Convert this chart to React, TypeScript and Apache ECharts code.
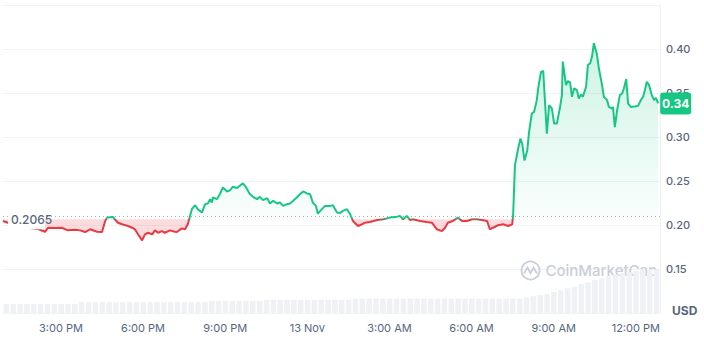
import React, { useEffect, useRef } from "react";
import * as echarts from "echarts";

// Window: 24h starting 12 Nov, 12:53 PM (minutes counted from 12 Nov 00:00)
const START_MIN = 773;
const WINDOW_MIN = 1440;
const BASELINE = 0.2065;
const LAST_LABEL = "0.34";

// minutes after window start
const minutes = [
  0, 37, 77, 92, 99, 114, 129, 142, 158, 169,
  180, 191, 206, 217, 224, 228, 241, 245, 252, 261,
  274, 283, 289, 296, 305, 311, 318, 327, 333, 340,
  348, 355, 366, 377, 381, 392, 399, 405, 414, 421,
  427, 436, 443, 449, 454, 458, 460, 469, 476, 482,
  491, 498, 504, 513, 519, 526, 533, 541, 548, 557,
  563, 570, 579, 585, 592, 601, 607, 614, 622, 629,
  636, 644, 651, 658, 666, 673, 679, 686, 690, 699,
  706, 717, 723, 732, 739, 745, 754, 761, 767, 778,
  787, 793, 804, 820, 833, 848, 864, 870, 877, 885,
  892, 899, 914, 929, 940, 951, 962, 969, 975, 986,
  997, 1006, 1017, 1028, 1039, 1050, 1061, 1067, 1074, 1085,
  1096, 1107, 1116, 1118, 1122, 1129, 1134, 1138, 1143, 1149,
  1153, 1159, 1164, 1170, 1173, 1179, 1184, 1188, 1192, 1197,
  1203, 1208, 1214, 1221, 1225, 1227, 1234, 1238, 1243, 1247,
  1252, 1258, 1262, 1267, 1271, 1278, 1282, 1287, 1291, 1295,
  1302, 1306, 1313, 1317, 1324, 1328, 1335, 1337, 1341, 1346,
  1352, 1357, 1361, 1366, 1370, 1376, 1387, 1392, 1398, 1403,
  1407, 1411, 1416, 1422, 1427, 1431, 1436,
];

const prices = [
  0.2046, 0.1977, 0.1954, 0.1923, 0.1969, 0.1966, 0.1969, 0.1939, 0.1946, 0.1939,
  0.1920, 0.1951, 0.1923, 0.1920, 0.2046, 0.2084, 0.2092, 0.2065, 0.2026, 0.2008,
  0.1989, 0.1969, 0.1951, 0.1894, 0.1825, 0.1894, 0.1912, 0.1894, 0.1939, 0.1912,
  0.1931, 0.1912, 0.1939, 0.1923, 0.1920, 0.1962, 0.1951, 0.2008, 0.2180, 0.2225,
  0.2180, 0.2141, 0.2237, 0.2244, 0.2294, 0.2255, 0.2312, 0.2294, 0.2358, 0.2427,
  0.2381, 0.2397, 0.2435, 0.2420, 0.2446, 0.2473, 0.2427, 0.2351, 0.2320, 0.2294,
  0.2320, 0.2283, 0.2305, 0.2244, 0.2275, 0.2244, 0.2255, 0.2217, 0.2237, 0.2244,
  0.2275, 0.2312, 0.2351, 0.2381, 0.2358, 0.2351, 0.2255, 0.2217, 0.2129, 0.2180,
  0.2217, 0.2217, 0.2225, 0.2141, 0.2137, 0.2160, 0.2180, 0.2122, 0.2046, 0.1989,
  0.2008, 0.2026, 0.2034, 0.2057, 0.2065, 0.2084, 0.2095, 0.2103, 0.2065, 0.2103,
  0.2057, 0.2065, 0.2046, 0.2034, 0.2026, 0.1951, 0.1931, 0.1969, 0.2026, 0.2046,
  0.2084, 0.2046, 0.2046, 0.2065, 0.2065, 0.2057, 0.2046, 0.1951, 0.1969, 0.1997,
  0.2008, 0.1989, 0.2008, 0.2103, 0.2675, 0.2866, 0.2981, 0.2923, 0.2732, 0.2847,
  0.3056, 0.3267, 0.3285, 0.3419, 0.3553, 0.3736, 0.3751, 0.3399, 0.3037, 0.3362,
  0.3324, 0.3152, 0.3152, 0.3342, 0.3476, 0.3857, 0.3590, 0.3636, 0.3621, 0.3457,
  0.3553, 0.3533, 0.3438, 0.3484, 0.3457, 0.3571, 0.3819, 0.3839, 0.3914, 0.4068,
  0.3934, 0.3781, 0.3590, 0.3457, 0.3419, 0.3342, 0.3324, 0.3342, 0.3113, 0.3304,
  0.3476, 0.3495, 0.3553, 0.3659, 0.3381, 0.3342, 0.3350, 0.3354, 0.3419, 0.3457,
  0.3533, 0.3628, 0.3590, 0.3476, 0.3419, 0.3445, 0.3381,
];

// 15-minute volume bars (relative units)
const volume = [
  15, 15, 15, 15, 15, 15, 15, 15, 15, 15, 15,
  18, 18, 18, 18, 18, 18, 18, 18, 18, 18, 18, 18, 18, 18, 18, 18, 18, 18, 18,
  20, 20, 20, 20, 20, 20, 20, 20,
  22, 22, 22, 22, 22, 22, 22, 22, 22, 22, 22, 22, 22,
  24, 24, 24, 24, 24, 24, 24, 24, 24, 24, 24, 24, 24, 24, 24, 24, 24, 24, 24, 24, 24, 24, 24, 24, 24,
  26, 28, 30, 32, 35, 38, 41, 44, 48, 51, 55, 58, 61, 64, 66, 68, 70, 72, 73, 73,
];

// x tick positions (minutes from 12 Nov 00:00) and their labels
const tickMinutes = [900, 1080, 1260, 1440, 1620, 1800, 1980, 2160];
const tickLabels = ["3:00 PM", "6:00 PM", "9:00 PM", "13 Nov", "3:00 AM", "6:00 AM", "9:00 AM", "12:00 PM"];

const Y_MIN = 0.1;
const Y_MAX = 0.45;
const Y_STEP = 0.05;

const GREEN = "#16c784";
const RED = "#ea3943";
const GREY = "#58667e";
const FONT = "Inter, 'Noto Sans', sans-serif";

export default function App() {
  const ref = useRef<HTMLDivElement>(null);

  useEffect(() => {
    if (!ref.current) return;
    const chart = echarts.init(ref.current, null, { renderer: "svg" });

    const priceData = minutes.map((m, i) => [START_MIN + m, prices[i]]);
    const pMax = Math.max(...prices);
    const pMin = Math.min(...prices);
    const off = (pMax - BASELINE) / (pMax - pMin);

    const option: any = {
      animation: false,
      textStyle: { fontFamily: FONT },
      grid: [
        { left: 3, right: 44, top: 5, bottom: 40 },
        { left: 3, right: 44, bottom: 40, height: 60 },
      ],
      xAxis: [
        {
          type: "value",
          gridIndex: 0,
          min: START_MIN,
          max: START_MIN + WINDOW_MIN,
          axisLine: { show: false },
          axisTick: { show: false },
          splitLine: { show: false },
          axisLabel: { show: false },
        },
        {
          type: "category",
          gridIndex: 1,
          data: volume.map((_, i) => String(i)),
          show: false,
        },
      ],
      yAxis: [
        {
          type: "value",
          gridIndex: 0,
          position: "right",
          min: Y_MIN,
          max: Y_MAX,
          interval: Y_STEP,
          axisLine: { show: true, lineStyle: { color: "#eef0f3" } },
          axisTick: { show: false },
          splitLine: { show: true, lineStyle: { color: "#f1f3f6", width: 1 } },
          axisLabel: {
            showMinLabel: false,
            showMaxLabel: false,
            formatter: (v: number) => v.toFixed(2),
            color: GREY,
            fontSize: 11,
            fontWeight: 500,
            fontFamily: FONT,
            margin: 6,
          },
        },
        {
          type: "value",
          gridIndex: 1,
          min: 0,
          max: 100,
          show: false,
          splitLine: { show: false },
        },
      ],
      visualMap: {
        show: false,
        type: "piecewise",
        seriesIndex: 0,
        dimension: 1,
        pieces: [
          { gte: 0, lt: BASELINE, color: RED },
          { gte: BASELINE, lte: 1, color: GREEN },
        ],
      },
      series: [
        {
          type: "line",
          xAxisIndex: 0,
          yAxisIndex: 0,
          data: priceData,
          showSymbol: false,
          symbol: "none",
          lineStyle: { width: 2 },
          z: 5,
          areaStyle: {
            origin: BASELINE,
            color: new echarts.graphic.LinearGradient(0, 0, 0, 1, [
              { offset: 0, color: "rgba(22,199,132,0.30)" },
              { offset: off, color: "rgba(22,199,132,0.03)" },
              { offset: off, color: "rgba(234,57,67,0.25)" },
              { offset: 1, color: "rgba(234,57,67,0.25)" },
            ]),
          },
          markLine: {
            silent: true,
            symbol: "none",
            label: { show: false },
            lineStyle: { color: "#a6b0c3", type: [1, 3], width: 1 },
            data: [{ yAxis: BASELINE }],
          },
        },
        {
          type: "bar",
          xAxisIndex: 1,
          yAxisIndex: 1,
          data: volume,
          barCategoryGap: "20%",
          itemStyle: { color: "#eff1f5" },
          silent: true,
          z: 1,
        },
      ],
    };

    chart.setOption(option);

    const by = chart.convertToPixel({ yAxisIndex: 0 }, BASELINE) as number;
    const lastPt = chart.convertToPixel({ seriesIndex: 0 }, priceData[priceData.length - 1]) as number[];
    const labelY = (chart.convertToPixel({ yAxisIndex: 0 }, Y_MIN) as number) + 15;
    const wmColor = "#c9ced8";

    const xLabels = tickMinutes.map((m, i) => ({
      type: "text",
      x: chart.convertToPixel({ xAxisIndex: 0 }, m) as number,
      y: labelY,
      z: 50,
      silent: true,
      style: { text: tickLabels[i], fill: GREY, font: `11px ${FONT}`, align: "center", verticalAlign: "middle" },
    }));

    chart.setOption({
      graphic: [
        {
          type: "group",
          left: 519,
          top: 259,
          z: 3,
          silent: true,
          children: [
            { type: "circle", shape: { cx: 10, cy: 10, r: 9 }, style: { fill: "none", stroke: wmColor, lineWidth: 1.8 } },
            {
              type: "polyline",
              shape: { points: [[3.5, 13], [7, 7], [10, 12.5], [13, 7], [16.5, 13]] },
              style: { fill: "none", stroke: wmColor, lineWidth: 1.8 },
            },
            {
              type: "text",
              x: 25,
              y: 10,
              style: { text: "CoinMarketCap", fill: wmColor, font: `500 15px ${FONT}`, verticalAlign: "middle" },
            },
          ],
        },
        ...xLabels,
        {
          type: "rect",
          shape: { x: 8, y: by - 10, width: 37, height: 20 },
          style: { fill: "#ffffff" },
          z: 100,
          silent: true,
        },
        {
          type: "text",
          x: 11,
          y: by,
          z: 101,
          silent: true,
          style: { text: "0.2065", fill: GREY, font: `500 12px ${FONT}`, verticalAlign: "middle" },
        },
        {
          type: "rect",
          shape: { x: lastPt[0] + 2, y: lastPt[1] - 11, width: 31, height: 22, r: 3 },
          style: { fill: GREEN },
          z: 100,
          silent: true,
        },
        {
          type: "text",
          x: lastPt[0] + 17.5,
          y: lastPt[1],
          z: 101,
          silent: true,
          style: { text: LAST_LABEL, fill: "#ffffff", font: `bold 12px ${FONT}`, align: "center", verticalAlign: "middle" },
        },
        {
          type: "text",
          x: 672,
          y: 310,
          z: 101,
          silent: true,
          style: { text: "USD", fill: GREY, font: `bold 12px ${FONT}`, verticalAlign: "middle" },
        },
      ],
    });

    return () => chart.dispose();
  }, []);

  return (
    <div
      ref={ref}
      style={{ position: "fixed", left: 0, top: 0, width: 704, height: 353, background: "#ffffff" }}
    />
  );
}
